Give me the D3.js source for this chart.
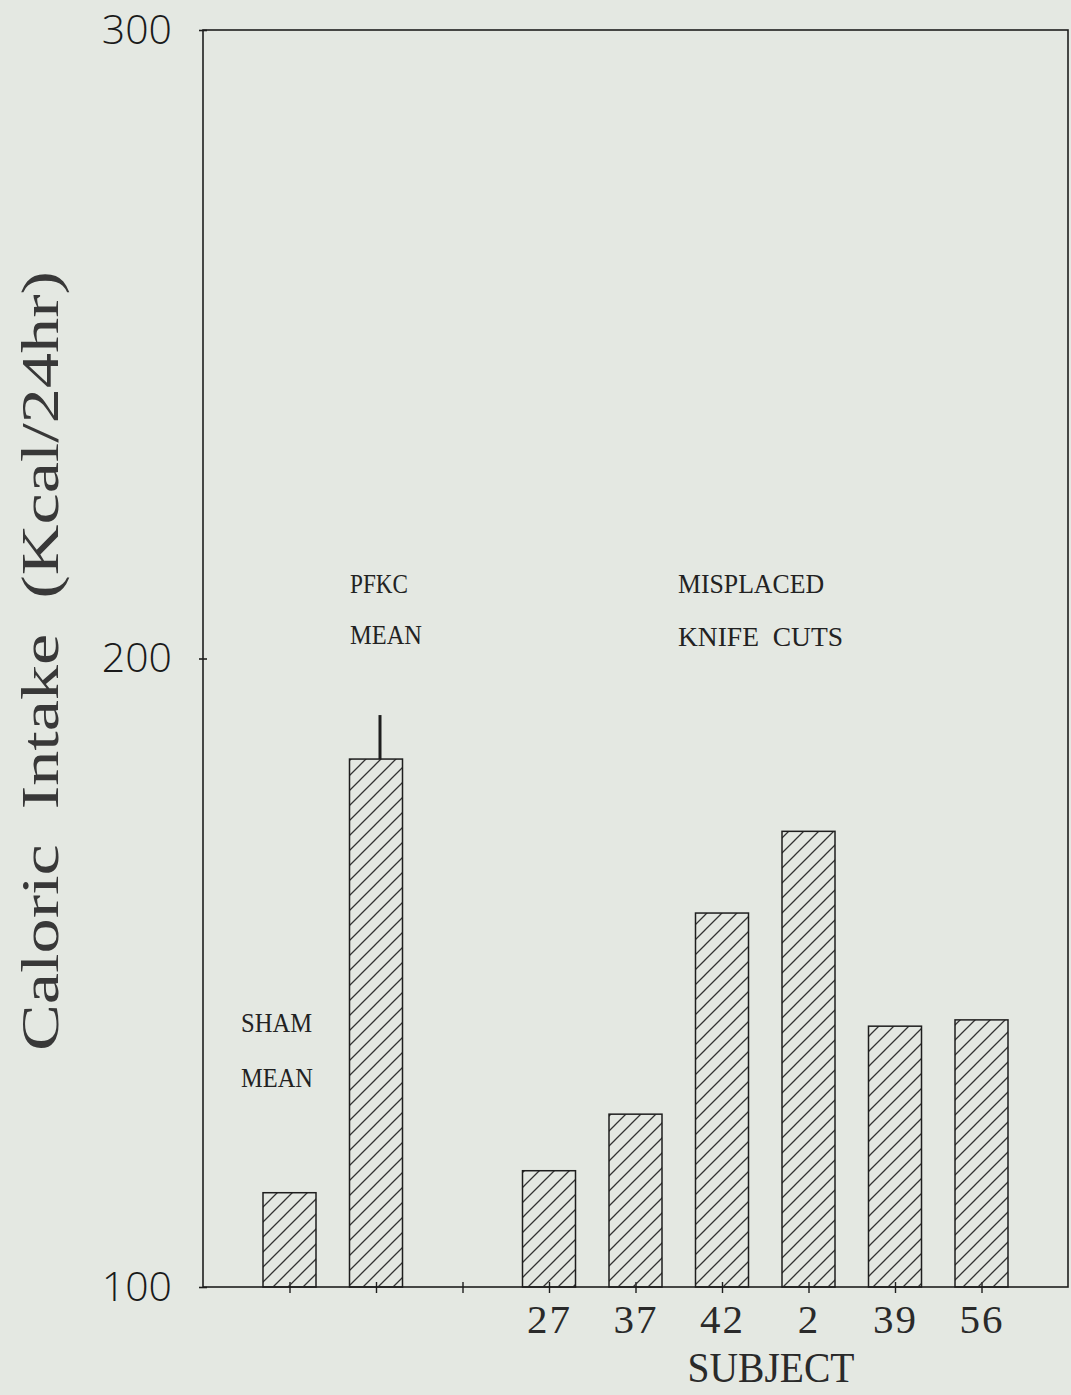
<!DOCTYPE html>
<html>
<head>
<meta charset="utf-8">
<script src="https://cdn.jsdelivr.net/npm/d3@7"></script>
<style>
  html, body { margin: 0; padding: 0; background: #e4e8e2; }
  svg { display: block; }
</style>
</head>
<body>
<svg id="chart" width="1071" height="1395"></svg>
<script>
// Slot positions along the x axis (0 and 10 are the frame edges)
const groupSlots   = [1, 2];
const groupValues  = [115, 184];          // SHAM mean, PFKC mean
const groupErrors  = [null, 7];           // upper error bar (PFKC only)
const subjectSlots = [4, 5, 6, 7, 8, 9];
const subjects     = ["27", "37", "42", "2", "39", "56"];
const subjectValues = [118.5, 127.5, 159.5, 172.5, 141.5, 142.5];
const tickSlots    = [1, 2, 3, 4, 5, 6, 7, 8, 9];
const yTicks       = [100, 200, 300];

const svg = d3.select("#chart");
const ink = "#1e1e1e";
const typeFont = "'Liberation Serif', 'Times New Roman', serif";

const x = d3.scaleLinear().domain([0, 10]).range([203, 1068]);
const y = d3.scaleLinear().domain([100, 300]).range([1287, 30]);
const barW = 53;

// diagonal hatching
const defs = svg.append("defs");
const pat = defs.append("pattern")
  .attr("id", "hatch")
  .attr("patternUnits", "userSpaceOnUse")
  .attr("width", 15).attr("height", 15);
pat.append("path")
  .attr("d", "M-2,2 L2,-2 M0,15 L15,0 M13,17 L17,13")
  .attr("stroke", "#333").attr("stroke-width", 1.3);

// frame
svg.append("rect")
  .attr("x", x(0)).attr("y", y(300))
  .attr("width", x(10) - x(0)).attr("height", y(100) - y(300))
  .attr("fill", "none").attr("stroke", ink).attr("stroke-width", 1.6);

// y axis
const yAxis = svg.append("g")
  .attr("transform", `translate(${x(0)},0)`)
  .call(d3.axisLeft(y).tickValues(yTicks).tickSize(4).tickPadding(27).tickFormat(d3.format("d")));
yAxis.select(".domain").remove();
yAxis.selectAll("line").attr("stroke", ink).attr("stroke-width", 1.6).attr("x2", 4).attr("x1", -4);
yAxis.selectAll("text")
  .attr("font-family", "'Open Sans', 'Liberation Sans', sans-serif")
  .attr("font-weight", 300)
  .attr("font-size", 41).attr("fill", "#1a1a1a");

// x axis ticks and subject labels
const xAxis = svg.append("g")
  .attr("transform", `translate(0,${y(100)})`)
  .call(d3.axisBottom(x).tickValues(tickSlots).tickSize(0)
    .tickFormat(d => { const i = subjectSlots.indexOf(d); return i >= 0 ? subjects[i] : ""; }));
xAxis.select(".domain").remove();
xAxis.selectAll(".tick").append("line")
  .attr("y1", -5).attr("y2", 6).attr("stroke", ink).attr("stroke-width", 1.4);
xAxis.selectAll("text")
  .attr("y", 46).attr("dy", 0)
  .attr("font-family", typeFont)
  .attr("font-size", 41).attr("fill", "#2a2a2a")
  .style("letter-spacing", "2px");

// bars
const bars = groupSlots.map((s, i) => ({ slot: s, v: groupValues[i] }))
  .concat(subjectSlots.map((s, i) => ({ slot: s, v: subjectValues[i] })));
svg.append("g").selectAll("rect").data(bars).join("rect")
  .attr("x", d => x(d.slot) - barW / 2)
  .attr("y", d => y(d.v))
  .attr("width", barW)
  .attr("height", d => y(100) - y(d.v))
  .attr("fill", "url(#hatch)")
  .attr("stroke", ink).attr("stroke-width", 1.5);

// error bar
svg.append("g").selectAll("line")
  .data(groupSlots.map((s, i) => ({ slot: s, v: groupValues[i], e: groupErrors[i] })).filter(d => d.e))
  .join("line")
  .attr("x1", d => x(d.slot) + 4).attr("x2", d => x(d.slot) + 4)
  .attr("y1", d => y(d.v)).attr("y2", d => y(d.v + d.e))
  .attr("stroke", ink).attr("stroke-width", 3);

// group annotations
const noteFont = "'Liberation Serif', 'Times New Roman', serif";
const notes = [
  { t: "SHAM", x: 241, y: 1032, w: 71 }, { t: "MEAN", x: 241, y: 1087, w: 72 },
  { t: "PFKC", x: 350, y: 593, w: 58 },  { t: "MEAN", x: 350, y: 644, w: 72 },
  { t: "MISPLACED", x: 678, y: 593, w: 146 }, { t: "KNIFE  CUTS", x: 678, y: 646, w: 165 }
];
svg.append("g").selectAll("text").data(notes).join("text")
  .attr("x", d => d.x).attr("y", d => d.y)
  .attr("font-family", noteFont).attr("font-size", 27)
  .attr("textLength", d => d.w).attr("lengthAdjust", "spacingAndGlyphs")
  .attr("fill", "#222").style("white-space", "pre")
  .text(d => d.t);

// axis titles
svg.append("text")
  .attr("x", 771).attr("y", 1382)
  .attr("text-anchor", "middle")
  .attr("font-family", typeFont)
  .attr("font-size", 42).attr("fill", "#2a2a2a")
  .attr("textLength", 167).attr("lengthAdjust", "spacingAndGlyphs")
  .text("SUBJECT");

svg.append("text")
  .attr("transform", "translate(58,661) rotate(-90)")
  .attr("text-anchor", "middle")
  .attr("font-family", typeFont)
  .attr("font-size", 52).attr("fill", "#383838")
  .attr("textLength", 780).attr("lengthAdjust", "spacingAndGlyphs")
  .style("white-space", "pre")
  .text("Caloric  Intake  (Kcal/24hr)");
</script>
</body>
</html>
